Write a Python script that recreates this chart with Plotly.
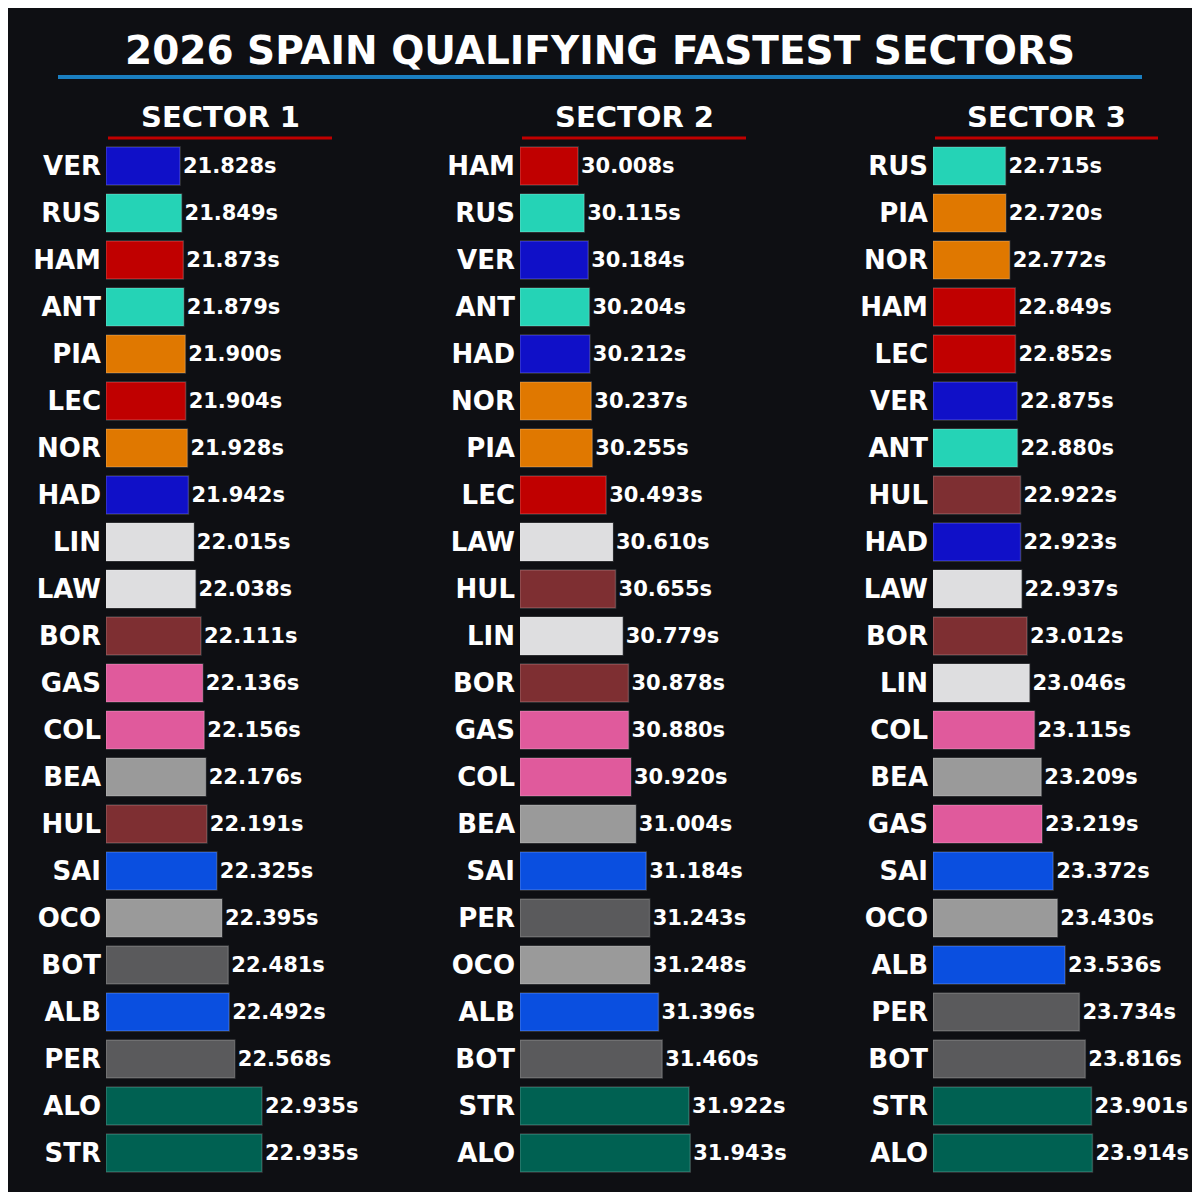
import plotly.graph_objects as go

s1_drivers = ["VER", "RUS", "HAM", "ANT", "PIA", "LEC", "NOR", "HAD", "LIN", "LAW", "BOR",
              "GAS", "COL", "BEA", "HUL", "SAI", "OCO", "BOT", "ALB", "PER", "ALO", "STR"]
s1_times = [21.828, 21.849, 21.873, 21.879, 21.900, 21.904, 21.928, 21.942, 22.015, 22.038, 22.111,
            22.136, 22.156, 22.176, 22.191, 22.325, 22.395, 22.481, 22.492, 22.568, 22.935, 22.935]

s2_drivers = ["HAM", "RUS", "VER", "ANT", "HAD", "NOR", "PIA", "LEC", "LAW", "HUL", "LIN",
              "BOR", "GAS", "COL", "BEA", "SAI", "PER", "OCO", "ALB", "BOT", "STR", "ALO"]
s2_times = [30.008, 30.115, 30.184, 30.204, 30.212, 30.237, 30.255, 30.493, 30.610, 30.655, 30.779,
            30.878, 30.880, 30.920, 31.004, 31.184, 31.243, 31.248, 31.396, 31.460, 31.922, 31.943]

s3_drivers = ["RUS", "PIA", "NOR", "HAM", "LEC", "VER", "ANT", "HUL", "HAD", "LAW", "BOR",
              "LIN", "COL", "BEA", "GAS", "SAI", "OCO", "ALB", "PER", "BOT", "STR", "ALO"]
s3_times = [22.715, 22.720, 22.772, 22.849, 22.852, 22.875, 22.880, 22.922, 22.923, 22.937, 23.012,
            23.046, 23.115, 23.209, 23.219, 23.372, 23.430, 23.536, 23.734, 23.816, 23.901, 23.914]

team_colors = {
    "VER": "#1010c8", "HAD": "#1010c8",
    "RUS": "#25d3b6", "ANT": "#25d3b6",
    "HAM": "#c00000", "LEC": "#c00000",
    "PIA": "#e07800", "NOR": "#e07800",
    "LIN": "#dedee0", "LAW": "#dedee0",
    "BOR": "#7e2f32", "HUL": "#7e2f32",
    "GAS": "#e05a9c", "COL": "#e05a9c",
    "BEA": "#9a9a9a", "OCO": "#9a9a9a",
    "SAI": "#0a4fe0", "ALB": "#0a4fe0",
    "BOT": "#5a5a5c", "PER": "#5a5a5c",
    "ALO": "#006152", "STR": "#006152",
}

BG = "#0e0f13"
FONT = "DejaVu Sans"
SIZE = 1184   # the page body adds an 8px margin, so the figure sits at 8..1192
OFF = 8.0


def px(p):
    # screen pixel -> paper fraction (x, or y measured from top)
    return (p - OFF) / SIZE


def py(p):
    return 1 - (p - OFF) / SIZE


# panel layout in screen pixels: (axis left, axis right, px per second)
panels = [
    (s1_drivers, s1_times, 106, 400, 74.0),
    (s2_drivers, s2_times, 520, 820, 58.0),
    (s3_drivers, s3_times, 933, 1192, 72.5),
]

fig = go.Figure()

for i, (drivers, times, x0, x1, scale) in enumerate(panels, start=1):
    base = round(min(times) - 1, 3)
    span = (x1 - x0) / scale
    rows = list(range(len(drivers)))
    xa = "x" if i == 1 else f"x{i}"
    ya = "y" if i == 1 else f"y{i}"
    fig.add_trace(go.Bar(
        y=rows, x=[t - base for t in times], base=base, orientation="h",
        marker=dict(color=[team_colors[d] for d in drivers],
                    line=dict(color="rgba(255,255,255,0.18)", width=1.5)),
        text=[f"{t:.3f}s" for t in times], textposition="outside", cliponaxis=False,
        textfont=dict(color="white", size=21, family=FONT, weight="bold"),
        xaxis=xa, yaxis=ya, showlegend=False, hoverinfo="skip",
    ))
    fig.layout[f"xaxis{'' if i == 1 else i}"] = dict(
        domain=[px(x0), px(x1)], range=[base, base + span], visible=False, anchor=ya)
    fig.layout[f"yaxis{'' if i == 1 else i}"] = dict(
        domain=[py(1176.5), py(142.5)], range=[len(drivers) - 0.5, -0.5], anchor=xa,
        tickvals=rows, ticktext=drivers, showgrid=False, zeroline=False, showline=False,
        ticks="", ticklabelstandoff=4,
        tickfont=dict(color="white", size=26, family=FONT, weight="bold"))

headers = [("SECTOR 1", 108, 332), ("SECTOR 2", 522, 746), ("SECTOR 3", 935, 1158)]
shapes = [dict(type="line", xref="paper", yref="paper", x0=px(58), x1=px(1142),
               y0=py(77), y1=py(77), line=dict(color="#1a7fc1", width=4))]
annotations = [dict(text="2026 SPAIN QUALIFYING FASTEST SECTORS", xref="paper", yref="paper",
                    x=px(600), y=py(50), xanchor="center", yanchor="middle", showarrow=False,
                    font=dict(color="white", size=39, family=FONT, weight="bold"))]
for label, a, b in headers:
    shapes.append(dict(type="line", xref="paper", yref="paper", x0=px(a), x1=px(b),
                       y0=py(138), y1=py(138), line=dict(color="#c00000", width=3)))
    annotations.append(dict(text=label, xref="paper", yref="paper", x=px((a + b) / 2),
                            y=py(117), xanchor="center", yanchor="middle", showarrow=False,
                            font=dict(color="white", size=29, family=FONT, weight="bold")))

fig.update_layout(
    width=SIZE, height=SIZE, margin=dict(l=0, r=0, t=0, b=0),
    paper_bgcolor=BG, plot_bgcolor=BG, bargap=0.19,
    shapes=shapes, annotations=annotations,
)

fig.write_html("out.html")
